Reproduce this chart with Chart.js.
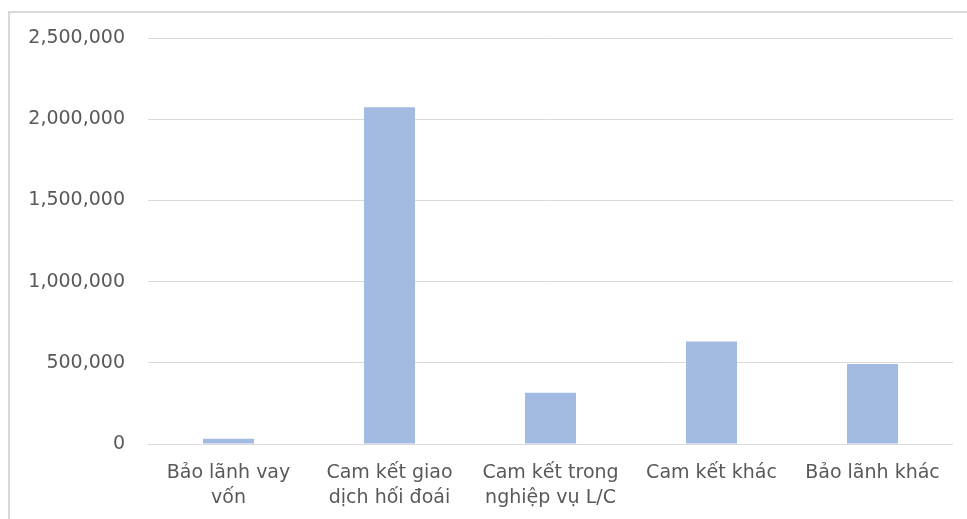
<!DOCTYPE html>
<html lang="vi">
<head>
<meta charset="utf-8">
<title>Cam kết và bảo lãnh</title>
<script src="https://cdn.jsdelivr.net/npm/chart.js@4.4.1/dist/chart.umd.min.js"></script>
<style>
  html, body { margin: 0; padding: 0; background: #fff; overflow: hidden; }
  #wrap { position: relative; width: 967px; height: 519px; overflow: hidden; }
  #frame {
    position: absolute; left: 8px; top: 11px; width: 1100px; height: 700px;
    border-left: 2px solid #d9d9d9; border-top: 2px solid #d9d9d9;
  }
  canvas { position: absolute; left: 0; top: 0; }
</style>
</head>
<body>
<div id="wrap">
  <div id="frame"></div>
  <canvas id="chart" width="967" height="519"></canvas>
</div>
<script>
// Categories (multi-line labels wrap as in the axis)
const categories = [
  ['Bảo lãnh vay', 'vốn'],
  ['Cam kết giao', 'dịch hối đoái'],
  ['Cam kết trong', 'nghiệp vụ L/C'],
  'Cam kết khác',
  'Bảo lãnh khác'
];

// Values per category
const values = [32000, 2074000, 315000, 631000, 492000];

// Value axis range and step
const yMin = 0;
const yMax = 2500000;
const yStep = 500000;

const textColor = '#595959';
const gridColor = '#d9d9d9';
const barColor = '#a3bae2';
const fontFamily = '"DejaVu Sans", sans-serif';

new Chart(document.getElementById('chart'), {
  type: 'bar',
  data: {
    labels: categories,
    datasets: [{
      data: values,
      backgroundColor: barColor,
      borderWidth: 0,
      barPercentage: 0.317,
      categoryPercentage: 1.0
    }]
  },
  options: {
    responsive: false,
    animation: false,
    devicePixelRatio: 1,
    layout: { padding: { top: 38, right: 14, bottom: 0, left: 0 } },
    plugins: {
      legend: { display: false },
      tooltip: { enabled: false }
    },
    scales: {
      x: {
        grid: { display: false, drawTicks: false },
        border: { display: false },
        ticks: {
          color: textColor,
          padding: 16,
          maxRotation: 0,
          autoSkip: false,
          font: { family: fontFamily, size: 19, lineHeight: 1.35 }
        },
        afterFit: (scale) => { scale.height = 75; }
      },
      y: {
        min: yMin,
        max: yMax,
        grid: { color: gridColor, lineWidth: 1, drawTicks: false },
        border: { display: false },
        ticks: {
          stepSize: yStep,
          color: textColor,
          padding: 23,
          font: { family: fontFamily, size: 19 },
          callback: (v) => Number(v).toLocaleString('en-US')
        },
        afterFit: (scale) => { scale.width = 148; }
      }
    }
  }
});
</script>
</body>
</html>
